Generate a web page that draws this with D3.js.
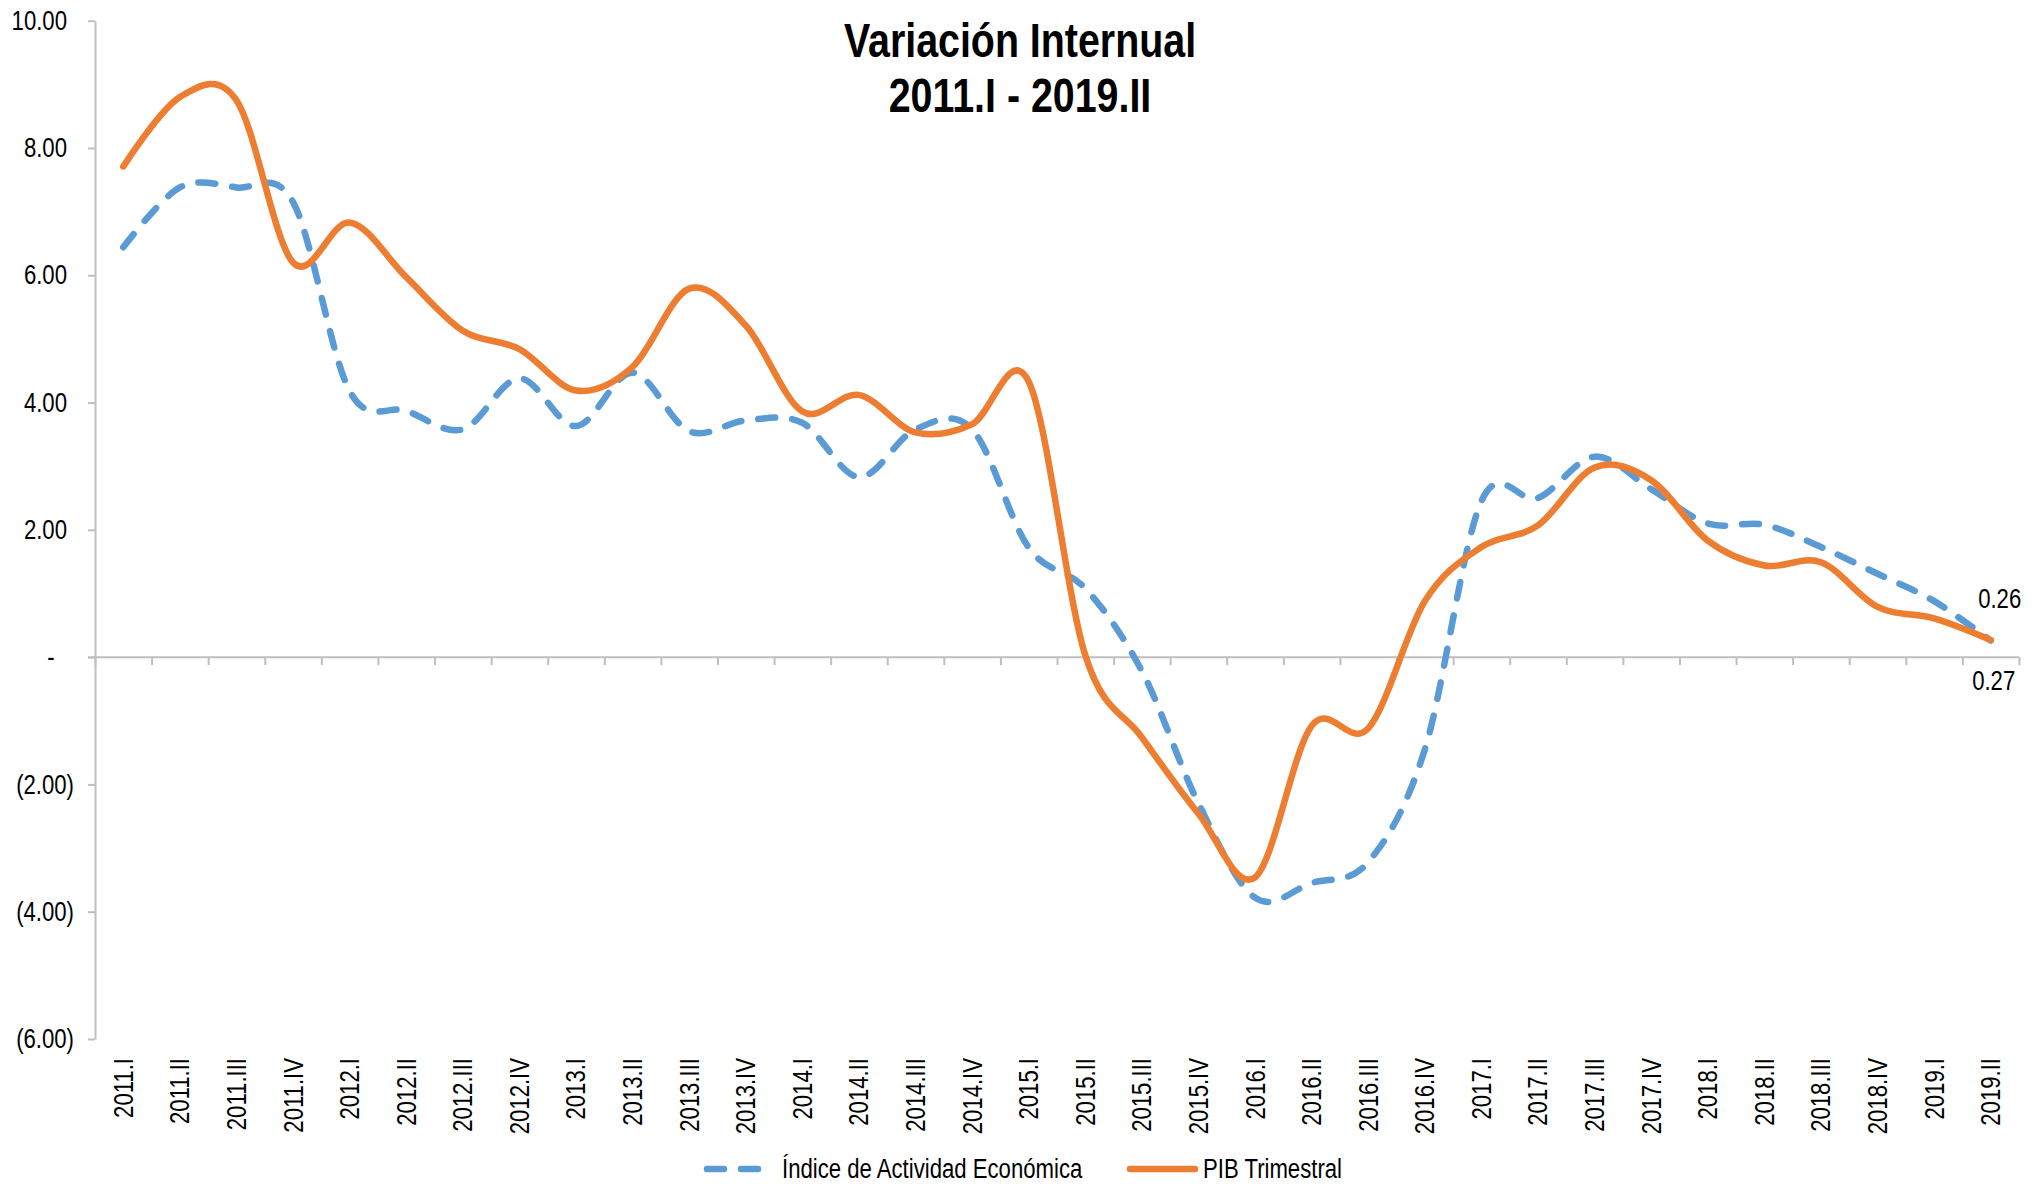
<!DOCTYPE html>
<html>
<head>
<meta charset="utf-8">
<script src="https://cdn.jsdelivr.net/npm/d3@7"></script>
<style>
  body { margin: 0; background: #fff; }
  svg text { font-family: "Liberation Sans", Arial, sans-serif; fill: #000; }
</style>
</head>
<body>
<div id="chart"></div>
<script>
// quarters shown on the x axis
const quarters = [
  "2011.I", "2011.II", "2011.III", "2011.IV",
  "2012.I", "2012.II", "2012.III", "2012.IV",
  "2013.I", "2013.II", "2013.III", "2013.IV",
  "2014.I", "2014.II", "2014.III", "2014.IV",
  "2015.I", "2015.II", "2015.III", "2015.IV",
  "2016.I", "2016.II", "2016.III", "2016.IV",
  "2017.I", "2017.II", "2017.III", "2017.IV",
  "2018.I", "2018.II", "2018.III", "2018.IV",
  "2019.I", "2019.II"
];

// Índice de Actividad Económica (variación internual, %)
const igae = [
  6.44, 7.38, 7.38, 7.15,
  4.18, 3.87, 3.58, 4.38,
  3.63, 4.47, 3.55, 3.72,
  3.68, 2.83, 3.58, 3.58,
  1.72, 1.08, -0.22, -2.30,
  -3.78, -3.55, -3.22, -1.45,
  2.45, 2.50, 3.15, 2.64,
  2.10, 2.08, 1.73, 1.31,
  0.88, 0.26
];

// PIB Trimestral (variación internual, %)
const pib = [
  7.71, 8.80, 8.75, 6.20,
  6.83, 5.97, 5.13, 4.84,
  4.19, 4.56, 5.79, 5.21,
  3.86, 4.12, 3.53, 3.66,
  4.33, 0.03, -1.26, -2.46,
  -3.46, -1.08, -1.12, 0.88,
  1.73, 2.07, 2.98, 2.78,
  1.83, 1.44, 1.49, 0.79,
  0.61, 0.27
];

const yTicks = [-6, -4, -2, 0, 2, 4, 6, 8, 10];
const titleLines = ["Variación Internual", "2011.I - 2019.II"];
const seriesNames = ["Índice de Actividad Económica", "PIB Trimestral"];

const width = 2040, height = 1184;
const plot = { left: 95, right: 2019, top: 20.7, bottom: 1039 };
const blue = "#5B9BD5", orange = "#ED7D31", axisGray = "#bfbfbf";

// no narrow face installed: squeeze glyphs along the text direction
function narrow(sel, k = 0.82) {
  sel.each(function () {
    const w = this.getComputedTextLength();
    d3.select(this).attr("textLength", w * k).attr("lengthAdjust", "spacingAndGlyphs");
  });
}

const svg = d3.select("#chart").append("svg")
  .attr("width", width)
  .attr("height", height);

const x = d3.scaleBand().domain(quarters).range([plot.left, plot.right]);
const xEdge = d3.scaleLinear().domain([0, quarters.length]).range([plot.left, plot.right]);
const y = d3.scaleLinear().domain([-6, 10]).range([plot.bottom, plot.top]);
const cx = (i) => x(quarters[i]) + x.bandwidth() / 2;

// accounting style labels: 8.00, -, (2.00)
const f2 = d3.format(".2f");
const acct = (v) => v === 0 ? "-" : v < 0 ? `(${f2(-v)})` : f2(v);

// y axis
const yAxis = svg.append("g")
  .attr("transform", `translate(${plot.left},0)`)
  .call(d3.axisLeft(y).tickValues(yTicks).tickSize(7).tickSizeOuter(0).tickPadding(21).tickFormat(acct));
yAxis.select(".domain").attr("stroke", axisGray).attr("stroke-width", 2);
yAxis.selectAll(".tick line").attr("stroke", axisGray).attr("stroke-width", 2);
yAxis.selectAll(".tick text")
  .attr("font-size", 27)
  .attr("x", (d) => d < 0 ? -21 : d === 0 ? -44 : -28)
  .attr("text-anchor", (d) => d === 0 ? "middle" : "end")
  .call(narrow);

// horizontal zero line with tick marks between categories
const zeroAxis = svg.append("g")
  .attr("transform", `translate(0,${y(0)})`)
  .call(d3.axisBottom(xEdge).tickValues(d3.range(quarters.length + 1)).tickSize(8).tickSizeOuter(0).tickFormat(""));
zeroAxis.select(".domain").attr("d", `M${plot.left - 7},0H${plot.right}`)
  .attr("stroke", axisGray).attr("stroke-width", 2);
zeroAxis.selectAll(".tick line").attr("stroke", axisGray).attr("stroke-width", 2);

// category labels under the plot
const xAxis = svg.append("g")
  .attr("transform", `translate(0,${plot.bottom})`)
  .call(d3.axisBottom(x).tickSize(0));
xAxis.select(".domain").remove();
xAxis.selectAll(".tick text")
  .attr("font-size", 27)
  .attr("transform", "rotate(-90)")
  .attr("text-anchor", "end")
  .attr("x", -19)
  .attr("y", 0)
  .attr("dy", "0.35em")
  .call(narrow);

// smoothed lines (Excel-like)
const line = d3.line()
  .x((d, i) => cx(i))
  .y((d) => y(d))
  .curve(d3.curveCardinal.tension(0));

svg.append("path")
  .datum(igae)
  .attr("d", line)
  .attr("fill", "none")
  .attr("stroke", blue)
  .attr("stroke-width", 6.5)
  .attr("stroke-linecap", "round")
  .attr("stroke-dasharray", "17 17");

svg.append("path")
  .datum(pib)
  .attr("d", line)
  .attr("fill", "none")
  .attr("stroke", orange)
  .attr("stroke-width", 6.5)
  .attr("stroke-linecap", "round");

// last value labels
const last = quarters.length - 1;
svg.append("text")
  .attr("x", cx(last) + 9)
  .attr("y", y(igae[last]) - 33)
  .attr("text-anchor", "middle")
  .attr("font-size", 27)
  .text(f2(igae[last]))
  .call(narrow);
svg.append("text")
  .attr("x", cx(last) + 3)
  .attr("y", y(pib[last]) + 50)
  .attr("text-anchor", "middle")
  .attr("font-size", 27)
  .text(f2(pib[last]))
  .call(narrow);

// title
svg.selectAll(".title")
  .data(titleLines)
  .join("text")
  .attr("class", "title")
  .attr("x", 1020)
  .attr("y", (d, i) => 57 + i * 55)
  .attr("text-anchor", "middle")
  .attr("font-size", 48)
  .attr("font-weight", "bold")
  .text((d) => d)
  .call(narrow);

// legend
const legend = svg.append("g").attr("transform", "translate(0,1169)");
legend.append("line")
  .attr("x1", 707).attr("x2", 763)
  .attr("stroke", blue).attr("stroke-width", 6.5)
  .attr("stroke-linecap", "round").attr("stroke-dasharray", "17 17");
legend.append("text")
  .attr("x", 782).attr("y", 9)
  .attr("font-size", 27)
  .text(seriesNames[0])
  .call(narrow);
legend.append("line")
  .attr("x1", 1130).attr("x2", 1195)
  .attr("stroke", orange).attr("stroke-width", 6.5)
  .attr("stroke-linecap", "round");
legend.append("text")
  .attr("x", 1203).attr("y", 9)
  .attr("font-size", 27)
  .text(seriesNames[1])
  .call(narrow);
</script>
</body>
</html>
